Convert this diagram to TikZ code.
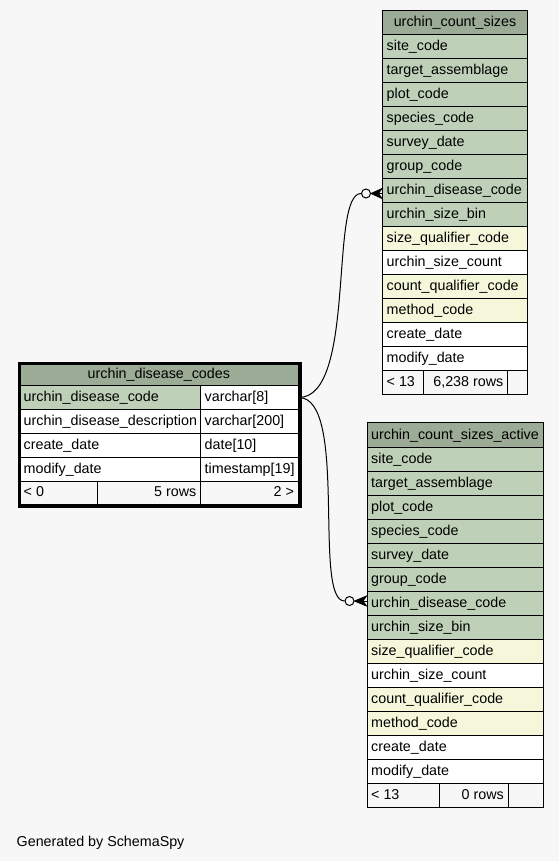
\documentclass[tikz,border=0pt]{standalone}
\usepackage{fontspec}
\setmainfont{Liberation Sans}
\usetikzlibrary{calc}
\definecolor{bgc}{HTML}{F7F7F7}
\definecolor{hdr}{HTML}{9BAB96}
\definecolor{pkc}{HTML}{BED1B8}
\definecolor{fkc}{HTML}{F4F7DA}
\definecolor{ftc}{HTML}{F7F7F7}
% name, x, y, w, h, fill, baseline offset, text
\newcommand{\ercellL}[8]{%
  \node[cellbox, fill=#6, minimum width=#4pt, minimum height=#5pt] (#1) at ({#2},{#3}) {};
  \node[celltext, anchor=base west] (#1t) at ([xshift=4.5pt,yshift=-#7pt]#1.north west) {#8};}
\newcommand{\ercellR}[8]{%
  \node[cellbox, fill=#6, minimum width=#4pt, minimum height=#5pt] (#1) at ({#2},{#3}) {};
  \node[celltext, anchor=base east] (#1t) at ([xshift=-4.5pt,yshift=-#7pt]#1.north east) {#8};}
\newcommand{\ercellC}[8]{%
  \node[cellbox, fill=#6, minimum width=#4pt, minimum height=#5pt] (#1) at ({#2},{#3}) {};
  \node[celltext, anchor=base] (#1t) at ([yshift=-#7pt]#1.north) {#8};}
\begin{document}
\begin{tikzpicture}[x=1pt,y=-1pt,
  cellbox/.style={draw, line width=1pt, inner sep=0pt, anchor=north west, rectangle},
  celltext/.style={inner sep=0pt, font=\fontsize{14.3}{16}\selectfont},
  link/.style={draw, line width=1pt},
  endcircle/.style={circle, draw, line width=1pt, fill=bgc, minimum size=9pt, inner sep=0pt},
  crow/.style={fill=black, draw=black, line width=0.8pt, line join=miter}]
\fill[bgc] (0,0) rectangle (559,861);
\useasboundingbox (0,0) rectangle (559,861);

% ---- urchin_count_sizes
\ercellC{ucs0}{382}{10}{145}{24}{hdr}{16.5}{urchin\_count\_sizes}
\foreach \t/\f [count=\i] in {site\_code/pkc, target\_assemblage/pkc, plot\_code/pkc,
  species\_code/pkc, survey\_date/pkc, group\_code/pkc, urchin\_disease\_code/pkc,
  urchin\_size\_bin/pkc, size\_qualifier\_code/fkc, urchin\_size\_count/white,
  count\_qualifier\_code/fkc, method\_code/fkc, create\_date/white, modify\_date/white}{
  \ercellL{ucs\i}{382}{34+24*(\i-1)}{145}{24}{\f}{16.5}{\t}
}
\ercellL{ucsf1}{382}{370}{41}{24}{ftc}{16.5}{< 13}
\ercellR{ucsf2}{423}{370}{84}{24}{ftc}{16.5}{6,238 rows}
\ercellL{ucsf3}{507}{370}{20}{24}{ftc}{16.5}{}

% ---- urchin_count_sizes_active
\ercellC{ucsa0}{366.5}{422}{176}{24.5}{hdr}{17}{urchin\_count\_sizes\_active}
\foreach \t/\f [count=\i] in {site\_code/pkc, target\_assemblage/pkc, plot\_code/pkc,
  species\_code/pkc, survey\_date/pkc, group\_code/pkc, urchin\_disease\_code/pkc,
  urchin\_size\_bin/pkc, size\_qualifier\_code/fkc, urchin\_size\_count/white,
  count\_qualifier\_code/fkc, method\_code/fkc, create\_date/white, modify\_date/white}{
  \ercellL{ucsa\i}{366.5}{446.5+24*(\i-1)}{176}{24}{\f}{16.5}{\t}
}
\ercellL{ucsaf1}{366.5}{782.5}{72.5}{24}{ftc}{16.5}{< 13}
\ercellR{ucsaf2}{439}{782.5}{68.5}{24}{ftc}{16.5}{0 rows}
\ercellL{ucsaf3}{507.5}{782.5}{35}{24}{ftc}{16.5}{}

% ---- urchin_disease_codes
\ercellC{udc0}{19}{363}{278.7}{22}{hdr}{15}{urchin\_disease\_codes}
\foreach \t/\ty/\f [count=\i] in {urchin\_disease\_code/varchar[8]/pkc,
  urchin\_disease\_description/varchar[200]/white, create\_date/date[10]/white,
  modify\_date/timestamp[19]/white}{
  \ercellL{udc\i a}{19}{385+24*(\i-1)}{181}{24}{\f}{16}{\t}
  \ercellL{udc\i b}{200}{385+24*(\i-1)}{97.7}{24}{white}{16}{\ty}
}
\ercellL{udcf1}{19}{481}{78}{22.5}{ftc}{15.5}{< 0}
\ercellR{udcf2}{97}{481}{103}{22.5}{ftc}{15.5}{5 rows}
\ercellR{udcf3}{200}{481}{97.7}{22.5}{ftc}{15.5}{2 >}
\node[draw, line width=3pt, inner sep=0pt, anchor=north west,
  minimum width=281.7pt, minimum height=143.7pt] (udc) at (17.5,361.5) {};

% ---- relationships
\node[endcircle] (o1) at ($(ucs7.west)+(-16,3)$) {};
\coordinate (e1) at (ucs7.west |- o1.center);
\draw[link] (udc1b.east) .. controls +(58,0) and +(-32,0) .. (o1.west);
\filldraw[crow] (o1.east) -- ($(e1)+(0,-5)$) -- ($(e1)+(-3.5,0)$) -- ($(e1)+(0,5)$) -- cycle;
\draw[line width=0.8pt] (o1.east) -- (e1);

\node[endcircle] (o2) at ($(ucsa7.west)+(-17,-2)$) {};
\coordinate (e2) at (ucsa7.west |- o2.center);
\draw[link] (udc1b.east) .. controls +(50,0) and +(-32,0) .. (o2.west);
\filldraw[crow] (o2.east) -- ($(e2)+(0,-5)$) -- ($(e2)+(-3.5,0)$) -- ($(e2)+(0,5)$) -- cycle;
\draw[line width=0.8pt] (o2.east) -- (e2);

% ---- footer text
\node[celltext, anchor=base west] (gen) at (16.5,846) {Generated by SchemaSpy};
\end{tikzpicture}
\end{document}
